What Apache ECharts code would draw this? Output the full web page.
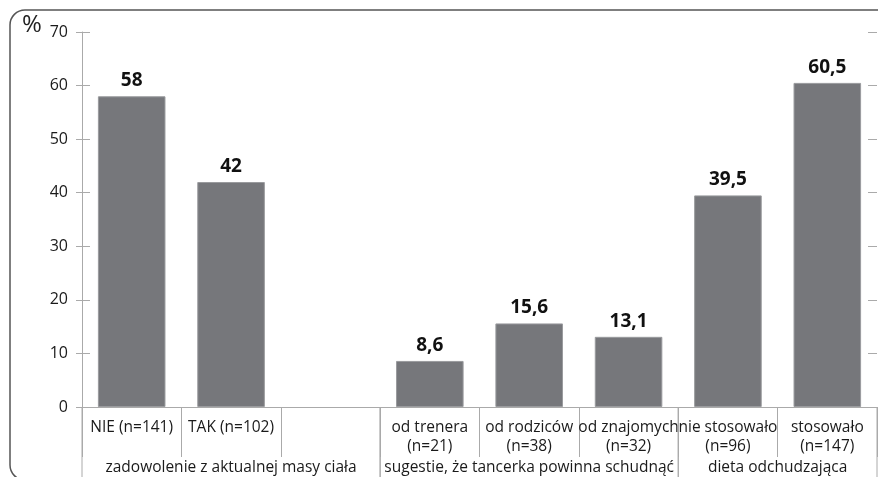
<!DOCTYPE html>
<html>
<head>
<meta charset="utf-8">
<script src="https://cdn.jsdelivr.net/npm/echarts@6/dist/echarts.min.js"></script>
<style>
  html, body { margin: 0; padding: 0; background: #fff; }
  #chart { width: 878px; height: 477px; }
</style>
</head>
<body>
<div id="chart"></div>
<script>
// kategorie (oś X) i wartości w %
const categories = ['NIE (n=141)', 'TAK (n=102)', '', 'od trenera\n(n=21)', 'od rodziców\n(n=38)',
  'od znajomych\n(n=32)', 'nie stosowało\n(n=96)', 'stosowało\n(n=147)']
const values = [58, 42, null, 8.6, 15.6, 13.1, 39.5, 60.5]
// grupy kategorii: [pierwszy indeks, ostatni indeks]
const groupRanges = [[0, 2], [3, 5], [6, 7]]
const groupNames = ['zadowolenie z aktualnej masy ciała', 'sugestie, że tancerka powinna schudnąć', 'dieta odchudzająca']
const yTicks = [0, 10, 20, 30, 40, 50, 60, 70]

const font = '"Open Sans", "Noto Sans", sans-serif'
const chart = echarts.init(document.getElementById('chart'))

const option = {
  animation: false,
  textStyle: { fontFamily: font },
  graphic: [
    { type: 'rect', shape: { x: 10, y: 10, width: 920, height: 470, r: 15 },
      style: { fill: 'none', stroke: '#555', lineWidth: 1.5 }, z: 0 },
    { type: 'text', left: 22, top: 13,
      style: { text: '%', fontSize: 24, fill: '#222', fontFamily: font } }
  ],
  grid: { left: 82, right: 1, top: 32, bottom: 70 },
  xAxis: [{
    type: 'category',
    data: categories,
    axisLine: { lineStyle: { color: '#aaa', width: 1 } },
    axisTick: { show: true, length: 50, lineStyle: { color: '#aaa' } },
    axisLabel: {
      interval: 0, margin: 11, color: '#1a1a1a', fontSize: 15.5, lineHeight: 19,
      verticalAlign: 'top', fontFamily: font
    }
  }, {
    type: 'category',
    data: categories,
    position: 'top',
    axisLine: { lineStyle: { color: '#aaa', width: 1 } },
    axisTick: { show: false },
    axisLabel: { show: false }
  }],
  yAxis: [{
    type: 'value', min: 0, max: 70, interval: 10,
    axisLine: { show: true, lineStyle: { color: '#aaa' } },
    axisTick: { show: true, length: 6, lineStyle: { color: '#aaa' } },
    axisLabel: { color: '#1a1a1a', fontSize: 16, margin: 14, fontFamily: font,
      formatter: v => yTicks.includes(v) ? String(v) : '' },
    splitLine: { show: false }
  }, {
    type: 'value', min: 0, max: 70, interval: 10, position: 'left',
    axisLine: { show: false },
    axisTick: { show: true, inside: true, length: 8, lineStyle: { color: '#aaa' } },
    axisLabel: { show: false },
    splitLine: { show: false }
  }, {
    type: 'value', min: 0, max: 70, interval: 10, position: 'right',
    axisLine: { show: false },
    axisTick: { show: true, inside: true, length: 9, lineStyle: { color: '#aaa' } },
    axisLabel: { show: false },
    splitLine: { show: false }
  }],
  series: [{
    type: 'bar',
    data: values,
    barWidth: '68%',
    itemStyle: { color: '#76777b', borderColor: '#9a9b9e', borderWidth: 1 },
    label: {
      show: true, position: 'top', distance: 6,
      color: '#111', fontWeight: 'bold', fontSize: 19, fontFamily: font,
      formatter: p => String(p.value).replace('.', ',')
    }
  }, {
    type: 'custom',
    silent: true,
    clip: false,
    data: groupRanges.map((r, i) => [r[0], r[1], i]),
    encode: { x: 0, y: 1 },
    renderItem: (params, api) => {
      const s = api.value(0), e = api.value(1)
      const w = api.size([1, 0])[0]
      const p0 = api.coord([s, 0])
      const p1 = api.coord([e, 0])
      const l = p0[0] - w / 2, r = p1[0] + w / 2
      const y0 = p0[1]
      return {
        type: 'group',
        children: [
          { type: 'line', shape: { x1: l, y1: y0, x2: l, y2: y0 + 90 }, style: { stroke: '#aaa', lineWidth: 1 } },
          { type: 'line', shape: { x1: r, y1: y0, x2: r, y2: y0 + 90 }, style: { stroke: '#aaa', lineWidth: 1 } },
          { type: 'text', x: (l + r) / 2, y: y0 + 61,
            style: { text: groupNames[api.value(2)], fill: '#1a1a1a', fontSize: 15.5, fontFamily: font,
              align: 'center', verticalAlign: 'middle' } }
        ]
      }
    }
  }]
}

chart.setOption(option)
</script>
</body>
</html>
